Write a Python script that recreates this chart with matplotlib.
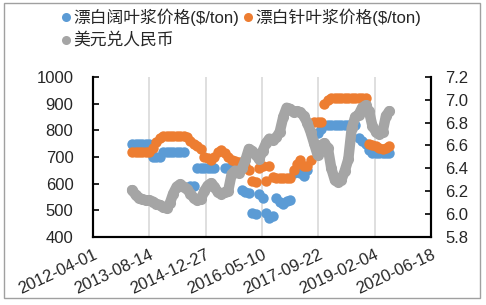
import matplotlib
matplotlib.use('Agg')
from matplotlib import pyplot as plt
import matplotlib.dates as mdates
from matplotlib.lines import Line2D
from matplotlib.patches import Rectangle
import numpy as np
import pandas as pd

plt.rcParams['font.family'] = ['Liberation Sans', 'Noto Sans CJK SC']

nan = np.nan

# monthly readings, 2013-03 .. 2019-06
months = pd.date_range('2013-03-01', '2019-06-01', freq='MS') + pd.Timedelta(days=14)

hardwood = [750, 750, 750, 750, 750, 750, 700, 700, 700, 720,
            720, 720, 720, 720, 720, 720, nan, 590, 590, 660,
            660, 660, 660, 660, 660, nan, nan, 660, 660, 660,
            660, nan, 575, 570, 565, 490, 485, 560, 545, 490,
            470, 480, 545, 530, 525, 535, 540, 640, 650, 640,
            630, 650, nan, nan, 790, 805, 820, 820, 820, 820,
            820, 820, 820, 820, 820, 820, 770, 760, 750, 725,
            715, 715, 715, 715, 715, 715]

softwood = [720, 720, 720, 720, 720, 720, 735, 755, 770, 780,
            780, 780, 780, 780, 780, 780, 775, 760, 750, 740,
            730, 700, 695, 690, 700, 720, 725, 715, 700, 690,
            685, 680, 675, 665, 650, 610, 605, 660, 665, 610,
            665, 625, 620, 620, 620, 620, 620, 650, 675, 690,
            665, 665, 690, 830, 830, 830, 900, 915, 920, 920,
            920, 920, 920, 920, 920, 920, 920, 920, 920, 750,
            745, 740, 735, 730, 735, 740]

usdcny = [6.21, 6.17, 6.14, 6.13, 6.12, 6.12, 6.11, 6.09, 6.08, 6.06,
          6.05, 6.10, 6.18, 6.24, 6.26, 6.24, 6.22, 6.18, 6.14, 6.12,
          6.13, 6.20, 6.25, 6.27, 6.24, 6.19, 6.18, 6.19, 6.20, 6.35,
          6.38, 6.36, 6.40, 6.47, 6.57, 6.55, 6.52, 6.48, 6.55, 6.62,
          6.66, 6.65, 6.67, 6.72, 6.85, 6.93, 6.92, 6.89, 6.90, 6.89,
          6.86, 6.80, 6.72, 6.62, 6.52, 6.60, 6.62, 6.58, 6.40, 6.30,
          6.28, 6.30, 6.38, 6.48, 6.75, 6.85, 6.87, 6.93, 6.95, 6.90,
          6.77, 6.72, 6.70, 6.72, 6.86, 6.90]

labels = ['漂白阔叶浆价格($/ton)', '漂白针叶浆价格($/ton)', '美元兑人民币']
c_blue, c_orange, c_gray = '#5B9BD5', '#ED7D31', '#A5A5A5'

fig = plt.figure(figsize=(4.86, 3.05), dpi=100)
ax = fig.add_axes([0.191, 0.223, 0.696, 0.525])
ax2 = ax.twinx()

ax.plot(months, hardwood, 'o', color=c_blue, ms=7.5, mec='none')
ax.plot(months, softwood, 'o', color=c_orange, ms=7.5, mec='none')
ax2.plot(months, usdcny, '-', color=c_gray, lw=7.5, solid_capstyle='round',
         solid_joinstyle='round')
ax2.plot(months, usdcny, 'o', color=c_gray, ms=8, mec='none')

start = pd.Timestamp('2012-04-01')
ticks = [start + pd.Timedelta(days=500 * k) for k in range(7)]
ax.set_xlim(ticks[0], ticks[-1])
ax.set_xticks(ticks)
ax.xaxis.set_major_formatter(mdates.DateFormatter('%Y-%m-%d'))
ax.grid(axis='x', color='#D9D9D9', lw=1.2)
ax.set_axisbelow(True)
ax.tick_params(axis='x', length=0, pad=7, labelsize=12, labelcolor='#262626')
for t in ax.get_xticklabels():
    t.set_rotation(25)
    t.set_ha('right')
    t.set_va('top')
    t.set_rotation_mode('anchor')

ax.set_ylim(400, 1000)
ax.set_yticks(range(400, 1001, 100))
ax2.set_ylim(5.8, 7.2)
ax2.set_yticks(np.arange(5.8, 7.21, 0.2))
ax2.yaxis.set_major_formatter(matplotlib.ticker.FormatStrFormatter('%.1f'))
ax.tick_params(axis='y', direction='in', length=4, width=1.2, labelsize=12,
               pad=14, labelcolor='#262626')
ax2.tick_params(axis='y', direction='in', length=4, width=1.2, labelsize=12,
                pad=10, labelcolor='#262626')

for a in (ax, ax2):
    a.spines['top'].set_visible(False)
    for s in ('left', 'right', 'bottom'):
        a.spines[s].set_linewidth(1.5)

# legend drawn by hand
leg = [(66, 17, c_blue, labels[0]), (248, 17, c_orange, labels[1]),
       (66, 40, c_gray, labels[2])]
W, H = 486, 305
for x, y, c, txt in leg:
    fig.add_artist(Line2D([x / W], [1 - y / H], marker='o', ms=6.5, color=c,
                          mec='none', transform=fig.transFigure))
    fig.text((x + 7) / W, 1 - y / H, txt, fontsize=12.1, va='center',
             ha='left', color='#262626')

fig.add_artist(Rectangle((4 / W, 7 / H), 476 / W, 295 / H, fill=False,
                         ec='#A0A0A0', lw=1, transform=fig.transFigure))

fig.savefig('out.png', dpi=100)
